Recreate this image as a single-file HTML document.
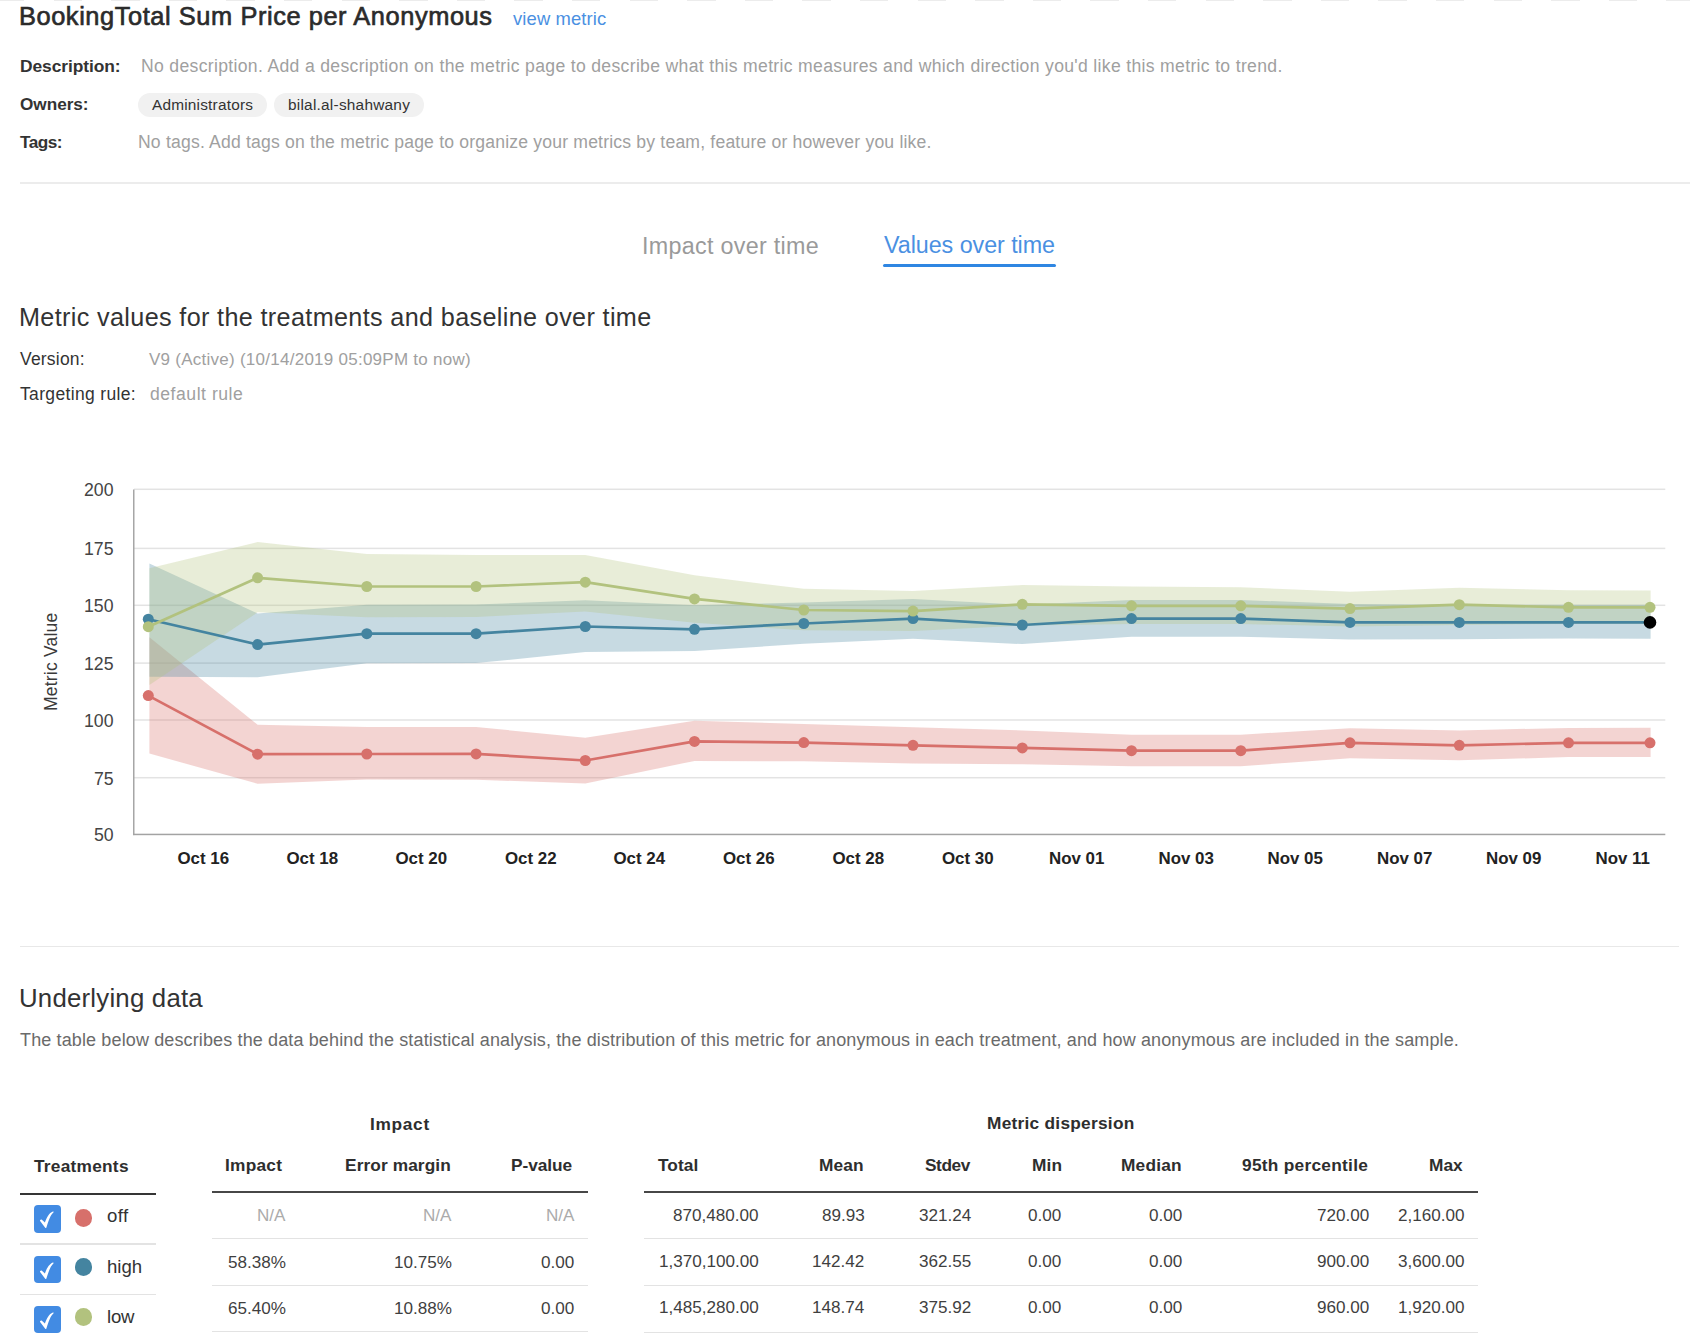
<!DOCTYPE html>
<html lang="en"><head><meta charset="utf-8"><title>Metric values over time</title>
<style>
html,body{margin:0;padding:0;background:#fff}
body{position:relative;width:1690px;height:1342px;overflow:hidden;font-family:"Liberation Sans",sans-serif}
.t{position:absolute;white-space:nowrap;line-height:1}
.chart{position:absolute;left:0;top:0}
.abs{position:absolute}
.dash{position:absolute;left:0;top:0;width:1690px;height:1px;background:repeating-linear-gradient(90deg,#ececec 0,#ececec 28.4px,transparent 28.4px,transparent 57.6px);background-position:-4px 0}
.pill{position:absolute;top:93px;height:23.6px;border-radius:12px;background:#f1f1f1}
.hr{position:absolute;background:#ebebeb}
.cb{position:absolute;left:33.8px;width:27.1px;height:27.6px;border-radius:4px;background:#428be3}
.cb svg{position:absolute;left:0;top:0}
.dot{position:absolute;width:17.8px;height:17.8px;border-radius:50%}
.tabline{position:absolute;left:882.7px;top:264px;width:173.5px;height:3px;border-radius:1.5px;background:#2f86e2}
.mv{position:absolute;white-space:nowrap;line-height:1;transform-origin:0 0;transform:rotate(-90deg)}
</style></head>
<body>
<div class="dash"></div>
<div class="pill" style="left:137.5px;width:129.2px"></div>
<div class="pill" style="left:273.6px;width:150.4px"></div>
<div class="hr" style="left:20px;top:182.3px;width:1670px;height:2px;background:#ececec"></div>
<div class="tabline"></div>
<div class="hr" style="left:20px;top:946px;width:1659px;height:1.2px;background:#e8e8e8"></div>
<div class="hr" style="left:20px;top:1192.6px;width:136px;height:2px;background:#353535"></div>
<div class="hr" style="left:20px;top:1243.4px;width:136px;height:1.2px;background:#e3e3e3"></div>
<div class="hr" style="left:20px;top:1293.5px;width:136px;height:1.2px;background:#e3e3e3"></div>
<div class="hr" style="left:211.8px;top:1190.9px;width:376.4px;height:2px;background:#474747"></div>
<div class="hr" style="left:211.8px;top:1238.0px;width:376.4px;height:1.2px;background:#e3e3e3"></div>
<div class="hr" style="left:211.8px;top:1284.8px;width:376.4px;height:1.2px;background:#e3e3e3"></div>
<div class="hr" style="left:211.8px;top:1331.0px;width:376.4px;height:1.2px;background:#e3e3e3"></div>
<div class="hr" style="left:643.7px;top:1191.0px;width:834.6px;height:2px;background:#474747"></div>
<div class="hr" style="left:643.7px;top:1238.2px;width:834.6px;height:1.2px;background:#e3e3e3"></div>
<div class="hr" style="left:643.7px;top:1284.6px;width:834.6px;height:1.2px;background:#e3e3e3"></div>
<div class="hr" style="left:643.7px;top:1331.8px;width:834.6px;height:1.2px;background:#e3e3e3"></div>
<div class="cb" style="top:1205.0px"><svg width="27.1" height="27.6" viewBox="0 0 27.1 27.6"><path d="M6.2 15.0 C6.6 14.4 7.3 14.2 7.9 14.7 L10.9 17.6 C12.6 12.6 15.1 7.9 18.9 6.5 C19.6 6.3 19.8 7.0 19.4 7.5 C16.7 9.8 14.6 15.2 12.4 22.6 C12.2 23.2 11.5 23.3 11.2 22.8 L6.1 16.1 C5.9 15.8 6.0 15.3 6.2 15.0 Z" fill="#fff"/></svg></div>
<div class="dot" style="left:74.6px;top:1209.1px;background:#d7706b"></div>
<div class="cb" style="top:1255.6px"><svg width="27.1" height="27.6" viewBox="0 0 27.1 27.6"><path d="M6.2 15.0 C6.6 14.4 7.3 14.2 7.9 14.7 L10.9 17.6 C12.6 12.6 15.1 7.9 18.9 6.5 C19.6 6.3 19.8 7.0 19.4 7.5 C16.7 9.8 14.6 15.2 12.4 22.6 C12.2 23.2 11.5 23.3 11.2 22.8 L6.1 16.1 C5.9 15.8 6.0 15.3 6.2 15.0 Z" fill="#fff"/></svg></div>
<div class="dot" style="left:74.6px;top:1258.3px;background:#4484a0"></div>
<div class="cb" style="top:1305.6px"><svg width="27.1" height="27.6" viewBox="0 0 27.1 27.6"><path d="M6.2 15.0 C6.6 14.4 7.3 14.2 7.9 14.7 L10.9 17.6 C12.6 12.6 15.1 7.9 18.9 6.5 C19.6 6.3 19.8 7.0 19.4 7.5 C16.7 9.8 14.6 15.2 12.4 22.6 C12.2 23.2 11.5 23.3 11.2 22.8 L6.1 16.1 C5.9 15.8 6.0 15.3 6.2 15.0 Z" fill="#fff"/></svg></div>
<div class="dot" style="left:74.6px;top:1308.4px;background:#b2c27e"></div>
<svg class="chart" width="1690" height="1342" viewBox="0 0 1690 1342">
<rect x="134" y="488.55" width="1531.3" height="1.5" fill="#e3e3e3"/>
<rect x="134" y="547.65" width="1531.3" height="1.5" fill="#e3e3e3"/>
<rect x="134" y="604.55" width="1531.3" height="1.5" fill="#e3e3e3"/>
<rect x="134" y="662.35" width="1531.3" height="1.5" fill="#e3e3e3"/>
<rect x="134" y="719.25" width="1531.3" height="1.5" fill="#e3e3e3"/>
<rect x="134" y="776.95" width="1531.3" height="1.5" fill="#e3e3e3"/>
<polygon points="149.4,637.2 257.6,724.7 366.8,727.1 476.1,727.0 585.3,737.7 694.5,720.7 803.8,724.0 913.0,727.2 1022.3,730.4 1131.5,734.7 1240.8,734.7 1350.0,728.3 1459.3,730.4 1568.5,727.9 1650.6,727.7 1650.6,757.1 1568.5,757.1 1459.3,760.3 1350.0,758.3 1240.8,766.2 1131.5,766.2 1022.3,764.3 913.0,763.5 803.8,761.3 694.5,760.9 585.3,783.5 476.1,779.7 366.8,779.6 257.6,783.8 149.4,753.5" fill="#d7706b" fill-opacity="0.3"/>
<polygon points="149.4,563.6 257.6,613.4 366.8,604.8 476.1,604.6 585.3,600.3 694.5,605.2 803.8,602.6 913.0,599.0 1022.3,604.7 1131.5,600.0 1240.8,600.0 1350.0,604.0 1459.3,604.7 1568.5,604.7 1650.6,604.7 1650.6,638.8 1568.5,638.4 1459.3,639.2 1350.0,639.5 1240.8,636.7 1131.5,636.7 1022.3,644.1 913.0,638.8 803.8,643.7 694.5,651.1 585.3,652.1 476.1,663.1 366.8,663.2 257.6,677.2 149.4,676.8" fill="#4484a0" fill-opacity="0.3"/>
<polygon points="149.4,568.3 257.6,542.0 366.8,554.1 476.1,554.9 585.3,555.1 694.5,575.3 803.8,588.8 913.0,590.9 1022.3,585.1 1131.5,586.6 1240.8,587.3 1350.0,591.8 1459.3,587.7 1568.5,590.3 1650.6,590.5 1650.6,623.9 1568.5,623.9 1459.3,625.0 1350.0,626.5 1240.8,623.9 1131.5,623.9 1022.3,625.5 913.0,631.0 803.8,630.3 694.5,622.7 585.3,611.6 476.1,616.9 366.8,617.3 257.6,612.3 149.4,685.0" fill="#b2c27e" fill-opacity="0.3"/>
<polyline points="148.3,695.6 257.6,754.2 366.8,754.0 476.1,753.9 585.3,760.5 694.5,741.4 803.8,742.6 913.0,745.3 1022.3,747.9 1131.5,750.7 1240.8,750.7 1350.0,742.8 1459.3,745.3 1568.5,742.8 1650.0,742.8" fill="none" stroke="#d7706b" stroke-width="2.7" stroke-linejoin="round"/>
<polyline points="148.3,619.2 257.6,644.6 366.8,633.7 476.1,633.7 585.3,626.5 694.5,629.3 803.8,623.5 913.0,618.6 1022.3,625.0 1131.5,618.6 1240.8,618.6 1350.0,622.4 1459.3,622.4 1568.5,622.4 1650.0,622.4" fill="none" stroke="#4484a0" stroke-width="2.7" stroke-linejoin="round"/>
<polyline points="148.3,626.7 257.6,577.8 366.8,586.5 476.1,586.5 585.3,582.2 694.5,598.9 803.8,610.0 913.0,611.1 1022.3,604.3 1131.5,605.8 1240.8,605.8 1350.0,608.6 1459.3,604.7 1568.5,607.3 1650.0,607.3" fill="none" stroke="#b2c27e" stroke-width="2.7" stroke-linejoin="round"/>
<circle cx="148.3" cy="695.6" r="5.5" fill="#d7706b"/>
<circle cx="257.6" cy="754.2" r="5.5" fill="#d7706b"/>
<circle cx="366.8" cy="754.0" r="5.5" fill="#d7706b"/>
<circle cx="476.1" cy="753.9" r="5.5" fill="#d7706b"/>
<circle cx="585.3" cy="760.5" r="5.5" fill="#d7706b"/>
<circle cx="694.5" cy="741.4" r="5.5" fill="#d7706b"/>
<circle cx="803.8" cy="742.6" r="5.5" fill="#d7706b"/>
<circle cx="913.0" cy="745.3" r="5.5" fill="#d7706b"/>
<circle cx="1022.3" cy="747.9" r="5.5" fill="#d7706b"/>
<circle cx="1131.5" cy="750.7" r="5.5" fill="#d7706b"/>
<circle cx="1240.8" cy="750.7" r="5.5" fill="#d7706b"/>
<circle cx="1350.0" cy="742.8" r="5.5" fill="#d7706b"/>
<circle cx="1459.3" cy="745.3" r="5.5" fill="#d7706b"/>
<circle cx="1568.5" cy="742.8" r="5.5" fill="#d7706b"/>
<circle cx="1650.0" cy="742.8" r="5.5" fill="#d7706b"/>
<circle cx="148.3" cy="619.2" r="5.5" fill="#4484a0"/>
<circle cx="257.6" cy="644.6" r="5.5" fill="#4484a0"/>
<circle cx="366.8" cy="633.7" r="5.5" fill="#4484a0"/>
<circle cx="476.1" cy="633.7" r="5.5" fill="#4484a0"/>
<circle cx="585.3" cy="626.5" r="5.5" fill="#4484a0"/>
<circle cx="694.5" cy="629.3" r="5.5" fill="#4484a0"/>
<circle cx="803.8" cy="623.5" r="5.5" fill="#4484a0"/>
<circle cx="913.0" cy="618.6" r="5.5" fill="#4484a0"/>
<circle cx="1022.3" cy="625.0" r="5.5" fill="#4484a0"/>
<circle cx="1131.5" cy="618.6" r="5.5" fill="#4484a0"/>
<circle cx="1240.8" cy="618.6" r="5.5" fill="#4484a0"/>
<circle cx="1350.0" cy="622.4" r="5.5" fill="#4484a0"/>
<circle cx="1459.3" cy="622.4" r="5.5" fill="#4484a0"/>
<circle cx="1568.5" cy="622.4" r="5.5" fill="#4484a0"/>
<circle cx="148.3" cy="626.7" r="5.5" fill="#b2c27e"/>
<circle cx="257.6" cy="577.8" r="5.5" fill="#b2c27e"/>
<circle cx="366.8" cy="586.5" r="5.5" fill="#b2c27e"/>
<circle cx="476.1" cy="586.5" r="5.5" fill="#b2c27e"/>
<circle cx="585.3" cy="582.2" r="5.5" fill="#b2c27e"/>
<circle cx="694.5" cy="598.9" r="5.5" fill="#b2c27e"/>
<circle cx="803.8" cy="610.0" r="5.5" fill="#b2c27e"/>
<circle cx="913.0" cy="611.1" r="5.5" fill="#b2c27e"/>
<circle cx="1022.3" cy="604.3" r="5.5" fill="#b2c27e"/>
<circle cx="1131.5" cy="605.8" r="5.5" fill="#b2c27e"/>
<circle cx="1240.8" cy="605.8" r="5.5" fill="#b2c27e"/>
<circle cx="1350.0" cy="608.6" r="5.5" fill="#b2c27e"/>
<circle cx="1459.3" cy="604.7" r="5.5" fill="#b2c27e"/>
<circle cx="1568.5" cy="607.3" r="5.5" fill="#b2c27e"/>
<circle cx="1650.0" cy="607.3" r="5.5" fill="#b2c27e"/>
<circle cx="1650" cy="622.4" r="6.3" fill="#000"/>
<rect x="133" y="489.5" width="1.5" height="345.6" fill="#a6a6a6"/>
<rect x="133" y="833.7" width="1532.3" height="1.5" fill="#a3a3a3"/>
</svg>
<div class="mv" id="mv" style="left:42.80px;top:710.60px;font-size:17.50px;letter-spacing:0.200px;color:#3a3a3a">Metric Value</div>
<div class="t" id="title" style="left:18.99px;top:4.41px;font-size:25.40px;color:#2b2b2b;letter-spacing:0.571px;-webkit-text-stroke:0.65px #2b2b2b">BookingTotal Sum Price per Anonymous</div>
<div class="t" id="viewmetric" style="left:513.00px;top:9.82px;font-size:18.40px;color:#4a90e2;letter-spacing:0.130px">view metric</div>
<div class="t" id="desc_label" style="left:19.99px;top:58.01px;font-size:17.40px;color:#333333;font-weight:700;letter-spacing:-0.082px">Description:</div>
<div class="t" id="desc_val" style="left:141.00px;top:58.01px;font-size:17.60px;color:#a0a0a0;letter-spacing:0.321px">No description. Add a description on the metric page to describe what this metric measures and which direction you'd like this metric to trend.</div>
<div class="t" id="owners" style="left:20.00px;top:95.91px;font-size:17.20px;color:#333333;font-weight:700;letter-spacing:-0.033px">Owners:</div>
<div class="t" id="admin" style="left:151.99px;top:97.01px;font-size:15.40px;color:#333333;letter-spacing:0.200px">Administrators</div>
<div class="t" id="bilal" style="left:288.00px;top:96.90px;font-size:15.40px;color:#333333;letter-spacing:0.237px">bilal.al-shahwany</div>
<div class="t" id="tags" style="left:20.00px;top:133.82px;font-size:17.20px;color:#333333;font-weight:700;letter-spacing:-0.550px">Tags:</div>
<div class="t" id="tags_val" style="left:137.99px;top:134.01px;font-size:17.60px;color:#a0a0a0;letter-spacing:0.183px">No tags. Add tags on the metric page to organize your metrics by team, feature or however you like.</div>
<div class="t" id="tab1" style="left:642.00px;top:234.51px;font-size:23.30px;color:#9a9a9a;letter-spacing:0.300px">Impact over time</div>
<div class="t" id="tab2" style="left:883.99px;top:234.31px;font-size:23.30px;color:#4a90e2;letter-spacing:-0.047px">Values over time</div>
<div class="t" id="h2" style="left:19.00px;top:304.90px;font-size:25.20px;color:#333333;letter-spacing:0.352px">Metric values for the treatments and baseline over time</div>
<div class="t" id="version" style="left:20.00px;top:351.31px;font-size:17.50px;color:#333333;letter-spacing:0.200px">Version:</div>
<div class="t" id="v9" style="left:148.99px;top:351.31px;font-size:17.00px;color:#a0a0a0;letter-spacing:0.258px">V9 (Active) (10/14/2019 05:09PM to now)</div>
<div class="t" id="targeting" style="left:20.00px;top:385.90px;font-size:17.50px;color:#333333;letter-spacing:0.343px">Targeting rule:</div>
<div class="t" id="defrule" style="left:149.99px;top:385.91px;font-size:17.60px;color:#a0a0a0;letter-spacing:0.527px">default rule</div>
<div class="t" id="under" style="left:19.00px;top:985.50px;font-size:25.80px;color:#333333;letter-spacing:0.214px">Underlying data</div>
<div class="t" id="para" style="left:20.00px;top:1031.01px;font-size:18.00px;color:#6a6a6a;letter-spacing:0.130px">The table below describes the data behind the statistical analysis, the distribution of this metric for anonymous in each treatment, and how anonymous are included in the sample.</div>
<div class="t" id="treat" style="left:33.99px;top:1158.00px;font-size:17.30px;color:#2e2e2e;font-weight:700;letter-spacing:0.256px">Treatments</div>
<div class="t" id="off" style="left:107.00px;top:1207.01px;font-size:18.60px;color:#333333;letter-spacing:0.400px">off</div>
<div class="t" id="high" style="left:107.00px;top:1257.51px;font-size:18.60px;color:#333333">high</div>
<div class="t" id="low" style="left:107.00px;top:1307.60px;font-size:18.60px;color:#333333;letter-spacing:-0.200px">low</div>
<div class="t" id="impg" style="left:369.99px;top:1115.61px;font-size:17.30px;color:#2e2e2e;font-weight:700;letter-spacing:0.700px">Impact</div>
<div class="t" id="h_imp" style="left:224.99px;top:1157.00px;font-size:17.30px;color:#2e2e2e;font-weight:700;letter-spacing:0.240px">Impact</div>
<div class="t" id="h_err" style="left:345.00px;top:1157.00px;font-size:17.30px;color:#2e2e2e;font-weight:700;letter-spacing:0.100px">Error margin</div>
<div class="t" id="h_pv" style="left:511.00px;top:1157.00px;font-size:17.30px;color:#2e2e2e;font-weight:700;letter-spacing:-0.050px">P-value</div>
<div class="t" id="metd" style="left:986.99px;top:1115.31px;font-size:17.30px;color:#2e2e2e;font-weight:700;letter-spacing:0.262px">Metric dispersion</div>
<div class="t" id="h_d0" style="left:657.99px;top:1156.81px;font-size:17.30px;color:#2e2e2e;font-weight:700;letter-spacing:0.050px">Total</div>
<div class="t" id="h_d1" style="left:818.99px;top:1156.81px;font-size:17.30px;color:#2e2e2e;font-weight:700;letter-spacing:0.100px">Mean</div>
<div class="t" id="h_d2" style="left:925.00px;top:1156.81px;font-size:17.30px;color:#2e2e2e;font-weight:700;letter-spacing:-0.425px">Stdev</div>
<div class="t" id="h_d3" style="left:1032.00px;top:1156.81px;font-size:17.30px;color:#2e2e2e;font-weight:700;letter-spacing:0.150px">Min</div>
<div class="t" id="h_d4" style="left:1121.00px;top:1156.81px;font-size:17.30px;color:#2e2e2e;font-weight:700;letter-spacing:0.200px">Median</div>
<div class="t" id="h_d5" style="left:1242.00px;top:1156.81px;font-size:17.30px;color:#2e2e2e;font-weight:700;letter-spacing:0.279px">95th percentile</div>
<div class="t" id="h_d6" style="left:1428.99px;top:1156.81px;font-size:17.30px;color:#2e2e2e;font-weight:700">Max</div>
<div class="t" id="iv00" style="left:257.00px;top:1207.20px;font-size:17.10px;color:#ababab">N/A</div>
<div class="t" id="iv01" style="left:422.99px;top:1207.20px;font-size:17.10px;color:#ababab">N/A</div>
<div class="t" id="iv02" style="left:546.00px;top:1207.20px;font-size:17.10px;color:#ababab">N/A</div>
<div class="t" id="iv10" style="left:228.00px;top:1253.60px;font-size:17.10px;color:#3f3f3f">58.38%</div>
<div class="t" id="iv11" style="left:393.99px;top:1253.60px;font-size:17.10px;color:#3f3f3f">10.75%</div>
<div class="t" id="iv12" style="left:541.00px;top:1253.60px;font-size:17.10px;color:#3f3f3f">0.00</div>
<div class="t" id="iv20" style="left:228.00px;top:1299.70px;font-size:17.10px;color:#3f3f3f">65.40%</div>
<div class="t" id="iv21" style="left:393.99px;top:1299.70px;font-size:17.10px;color:#3f3f3f">10.88%</div>
<div class="t" id="iv22" style="left:541.00px;top:1299.70px;font-size:17.10px;color:#3f3f3f">0.00</div>
<div class="t" id="dv00" style="left:673.00px;top:1206.51px;font-size:17.10px;color:#3f3f3f">870,480.00</div>
<div class="t" id="dv01" style="left:821.99px;top:1206.51px;font-size:17.10px;color:#3f3f3f">89.93</div>
<div class="t" id="dv02" style="left:919.00px;top:1206.51px;font-size:17.10px;color:#3f3f3f">321.24</div>
<div class="t" id="dv03" style="left:1028.00px;top:1206.51px;font-size:17.10px;color:#3f3f3f">0.00</div>
<div class="t" id="dv04" style="left:1149.00px;top:1206.51px;font-size:17.10px;color:#3f3f3f">0.00</div>
<div class="t" id="dv05" style="left:1317.00px;top:1206.51px;font-size:17.10px;color:#3f3f3f">720.00</div>
<div class="t" id="dv06" style="left:1397.99px;top:1206.51px;font-size:17.10px;color:#3f3f3f">2,160.00</div>
<div class="t" id="dv10" style="left:659.00px;top:1253.01px;font-size:17.10px;color:#3f3f3f">1,370,100.00</div>
<div class="t" id="dv11" style="left:811.99px;top:1253.01px;font-size:17.10px;color:#3f3f3f">142.42</div>
<div class="t" id="dv12" style="left:919.00px;top:1253.01px;font-size:17.10px;color:#3f3f3f">362.55</div>
<div class="t" id="dv13" style="left:1028.00px;top:1253.01px;font-size:17.10px;color:#3f3f3f">0.00</div>
<div class="t" id="dv14" style="left:1149.00px;top:1253.01px;font-size:17.10px;color:#3f3f3f">0.00</div>
<div class="t" id="dv15" style="left:1317.00px;top:1253.01px;font-size:17.10px;color:#3f3f3f">900.00</div>
<div class="t" id="dv16" style="left:1397.99px;top:1253.01px;font-size:17.10px;color:#3f3f3f">3,600.00</div>
<div class="t" id="dv20" style="left:659.00px;top:1299.20px;font-size:17.10px;color:#3f3f3f">1,485,280.00</div>
<div class="t" id="dv21" style="left:811.99px;top:1299.20px;font-size:17.10px;color:#3f3f3f">148.74</div>
<div class="t" id="dv22" style="left:919.00px;top:1299.20px;font-size:17.10px;color:#3f3f3f">375.92</div>
<div class="t" id="dv23" style="left:1028.00px;top:1299.20px;font-size:17.10px;color:#3f3f3f">0.00</div>
<div class="t" id="dv24" style="left:1149.00px;top:1299.20px;font-size:17.10px;color:#3f3f3f">0.00</div>
<div class="t" id="dv25" style="left:1317.00px;top:1299.20px;font-size:17.10px;color:#3f3f3f">960.00</div>
<div class="t" id="dv26" style="left:1397.99px;top:1299.20px;font-size:17.10px;color:#3f3f3f">1,920.00</div>
<div class="t" id="yl0" style="left:83.99px;top:482.21px;font-size:17.70px;color:#444444">200</div>
<div class="t" id="yl1" style="left:83.99px;top:541.31px;font-size:17.70px;color:#444444">175</div>
<div class="t" id="yl2" style="left:83.99px;top:598.21px;font-size:17.70px;color:#444444">150</div>
<div class="t" id="yl3" style="left:83.99px;top:656.00px;font-size:17.70px;color:#444444">125</div>
<div class="t" id="yl4" style="left:83.99px;top:712.90px;font-size:17.70px;color:#444444">100</div>
<div class="t" id="yl5" style="left:93.99px;top:770.60px;font-size:17.70px;color:#444444">75</div>
<div class="t" id="yl6" style="left:93.99px;top:827.31px;font-size:17.70px;color:#444444">50</div>
<div class="t" id="xl0" style="left:177.49px;top:851.30px;font-size:16.90px;color:#222222;font-weight:700">Oct 16</div>
<div class="t" id="xl1" style="left:286.49px;top:851.30px;font-size:16.90px;color:#222222;font-weight:700">Oct 18</div>
<div class="t" id="xl2" style="left:395.49px;top:851.30px;font-size:16.90px;color:#222222;font-weight:700">Oct 20</div>
<div class="t" id="xl3" style="left:504.99px;top:851.30px;font-size:16.90px;color:#222222;font-weight:700">Oct 22</div>
<div class="t" id="xl4" style="left:613.49px;top:851.30px;font-size:16.90px;color:#222222;font-weight:700">Oct 24</div>
<div class="t" id="xl5" style="left:722.99px;top:851.30px;font-size:16.90px;color:#222222;font-weight:700">Oct 26</div>
<div class="t" id="xl6" style="left:832.49px;top:851.30px;font-size:16.90px;color:#222222;font-weight:700">Oct 28</div>
<div class="t" id="xl7" style="left:941.99px;top:851.30px;font-size:16.90px;color:#222222;font-weight:700">Oct 30</div>
<div class="t" id="xl8" style="left:1048.99px;top:851.30px;font-size:16.90px;color:#222222;font-weight:700">Nov 01</div>
<div class="t" id="xl9" style="left:1158.49px;top:851.30px;font-size:16.90px;color:#222222;font-weight:700">Nov 03</div>
<div class="t" id="xl10" style="left:1267.49px;top:851.30px;font-size:16.90px;color:#222222;font-weight:700">Nov 05</div>
<div class="t" id="xl11" style="left:1376.99px;top:851.30px;font-size:16.90px;color:#222222;font-weight:700">Nov 07</div>
<div class="t" id="xl12" style="left:1485.99px;top:851.30px;font-size:16.90px;color:#222222;font-weight:700">Nov 09</div>
<div class="t" id="xl13" style="left:1595.49px;top:851.30px;font-size:16.90px;color:#222222;font-weight:700">Nov 11</div>
</body></html>
